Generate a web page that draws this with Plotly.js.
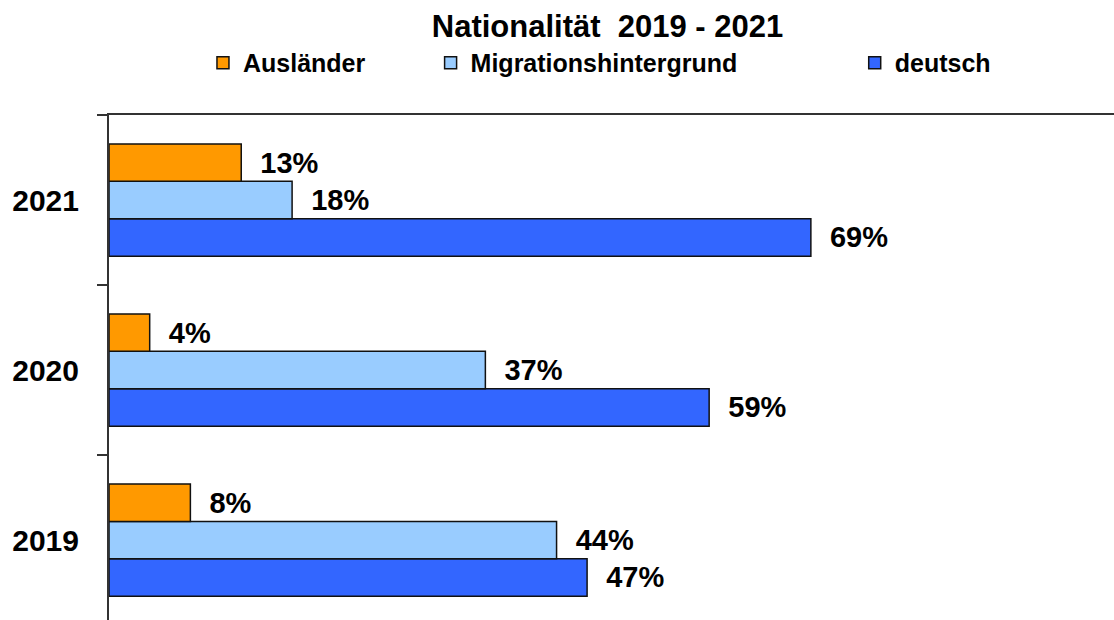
<!DOCTYPE html>
<html>
<head>
<meta charset="utf-8">
<script src="https://cdn.plot.ly/plotly-3.0.1.min.js"></script>
<style>html,body{margin:0;padding:0;background:#fff;}#chart{width:1114px;height:620px;}</style>
</head>
<body>
<div id="chart"></div>
<script>
const years = ['2019', '2020', '2021'];
const auslaender = [8, 4, 13];
const migration = [44, 37, 18];
const deutsch = [47, 59, 69];
const seriesNames = ['Ausländer', 'Migrationshintergrund', 'deutsch'];
const title = 'Nationalität\u00a0 2019 - 2021';

const FONT = 'Liberation Sans, Arial, sans-serif';
const lineStyle = {color: '#111', width: 1.5};
function mk(name, vals, color, legend) {
  return {
    type: 'bar', orientation: 'h', name: name, y: years, x: vals,
    marker: {color: color, line: lineStyle},
    texttemplate: '\u00a0\u00a0%{x}%', textposition: 'outside',
    constraintext: 'none', cliponaxis: false,
    textfont: {family: FONT, size: 29, weight: 'bold', color: '#000'},
    legend: legend, hoverinfo: 'skip'
  };
}
const data = [
  mk(seriesNames[2], deutsch, '#3366FF', 'legend3'),
  mk(seriesNames[1], migration, '#99CCFF', 'legend2'),
  mk(seriesNames[0], auslaender, '#FF9900', 'legend')
];
const legFont = {family: FONT, size: 25, weight: 'bold', color: '#000'};
function leg(x) {
  return {x: x, xanchor: 'left', y: 1.103, yanchor: 'middle', orientation: 'h',
          font: legFont, bgcolor: 'rgba(0,0,0,0)', borderwidth: 0};
}
const layout = {
  width: 1114, height: 620,
  margin: {l: 109, r: 0, t: 115, b: 0},
  paper_bgcolor: '#fff', plot_bgcolor: '#fff',
  barmode: 'group', bargap: 0.34, bargroupgap: 0,
  showlegend: true,
  title: {text: title, x: 607.5 / 1114, xref: 'container', xanchor: 'center',
          y: 0.958, yref: 'container', yanchor: 'middle',
          font: {family: FONT, size: 31, weight: 'bold', color: '#000'}},
  legend: leg(0.0935),
  legend2: leg(0.320),
  legend3: leg(0.742),
  xaxis: {range: [0, 98.8], side: 'top', showline: true, linecolor: '#333', linewidth: 2,
          showticklabels: false, ticks: '', showgrid: false, zeroline: false, fixedrange: true},
  yaxis: {type: 'category', categoryorder: 'array', categoryarray: years,
          range: [-0.47, 2.5], showline: true, linecolor: '#333', linewidth: 2,
          ticks: 'outside', tickson: 'boundaries', ticklen: 10, tickwidth: 2, tickcolor: '#333',
          ticklabelstandoff: 22, showgrid: false, zeroline: false, fixedrange: true,
          tickfont: {family: FONT, size: 30, weight: 'bold', color: '#000'}}
};
Plotly.newPlot('chart', data, layout, {displayModeBar: false, staticPlot: true});
</script>
</body>
</html>
